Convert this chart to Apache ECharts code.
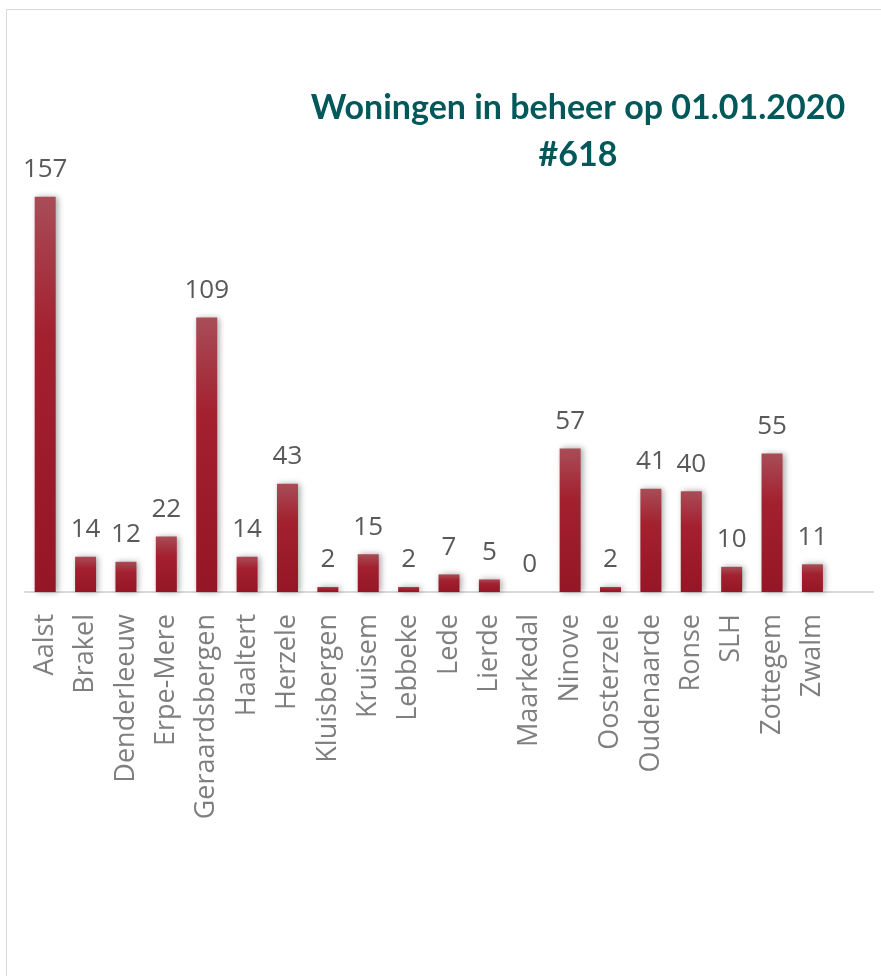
<!DOCTYPE html>
<html>
    <head>
        <meta charset="utf-8">
        <title>Woningen in beheer</title>
        <script src="https://cdn.jsdelivr.net/npm/echarts@6/dist/echarts.min.js"></script>
    </head>
    <body style="margin:0">
        <div id="main" style="width:881px;height:976px;"></div>
        <script type="text/javascript">
            var myChart = echarts.init(document.getElementById('main'));
            // gemeenten (laatste lege plaats zoals in het origineel)
            var gemeenten = ['Aalst','Brakel','Denderleeuw','Erpe-Mere','Geraardsbergen','Haaltert','Herzele',
                'Kluisbergen','Kruisem','Lebbeke','Lede','Lierde','Maarkedal','Ninove','Oosterzele',
                'Oudenaarde','Ronse','SLH','Zottegem','Zwalm',''];
            var woningen = [157,14,12,22,109,14,43,2,15,2,7,5,0,57,2,41,40,10,55,11];
            var titel = 'Woningen in beheer op 01.01.2020\n#618';

            var option = {
                animation: false,
                backgroundColor: '#ffffff',
                title: {
                    text: titel,
                    left: 573,
                    top: 80,
                    textAlign: 'center',
                    textStyle: {
                        color: '#00585a',
                        fontFamily: 'Lato',
                        fontWeight: 'bold',
                        fontSize: 34,
                        lineHeight: 47
                    }
                },
                graphic: [{
                    type: 'rect',
                    shape: {x: 6.5, y: 9.5, width: 900, height: 1000},
                    style: {fill: 'none', stroke: '#d9d9d9', lineWidth: 1}
                }],
                grid: {
                    left: 25,
                    right: 8,
                    top: 38,
                    bottom: 384,
                    containLabel: false
                },
                xAxis: {
                    type: 'category',
                    data: gemeenten,
                    axisLine: {lineStyle: {color: '#d9d9d9', width: 2}},
                    axisTick: {show: false},
                    axisLabel: {
                        rotate: 90,
                        interval: 0,
                        margin: 22,
                        color: '#7f7f7f',
                        fontFamily: 'Open Sans',
                        fontSize: 27
                    }
                },
                yAxis: {
                    type: 'value',
                    min: 0,
                    max: 220,
                    show: false,
                    splitLine: {show: false}
                },
                series: [{
                    type: 'bar',
                    data: woningen,
                    barWidth: 21,
                    itemStyle: {
                        color: new echarts.graphic.LinearGradient(0, 0, 0, 1, [
                            {offset: 0, color: '#a84d57'},
                            {offset: 0.35, color: '#a3202f'},
                            {offset: 1, color: '#951626'}
                        ]),
                        shadowColor: 'rgba(0,0,0,0.35)',
                        shadowBlur: 6,
                        shadowOffsetX: 2,
                        shadowOffsetY: 0
                    },
                    label: {
                        show: true,
                        position: 'top',
                        distance: 14,
                        color: '#595959',
                        fontFamily: 'Open Sans',
                        fontSize: 26
                    }
                }]
            };
            myChart.setOption(option);
        </script>
    </body>
</html>
